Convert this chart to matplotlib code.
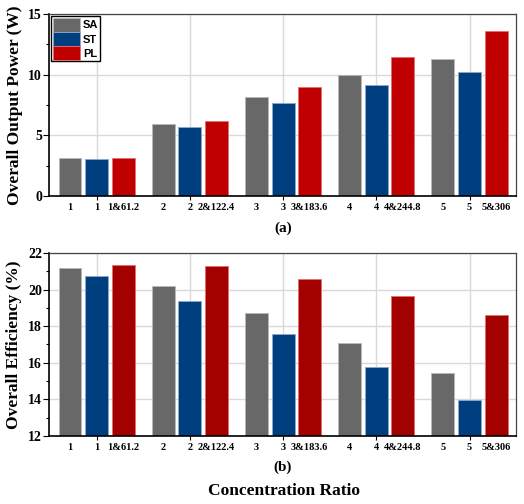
import numpy as np
import matplotlib
matplotlib.use('Agg')
import matplotlib.pyplot as plt
from matplotlib.ticker import MultipleLocator

plt.rcParams['font.family'] = 'Liberation Serif'
plt.rcParams['font.weight'] = 'bold'

labels = ['1', '1', '1&61.2', '2', '2', '2&122.4', '3', '3', '3&183.6',
          '4', '4', '4&244.8', '5', '5', '5&306']
series = ['SA', 'ST', 'PL']

power_sa = [3.10, 5.90, 8.18, 9.95, 11.27]
power_st = [3.02, 5.66, 7.67, 9.15, 10.20]
power_pl = [3.13, 6.20, 8.98, 11.43, 13.58]

eff_sa = [21.20, 20.22, 18.72, 17.08, 15.46]
eff_st = [20.74, 19.36, 17.57, 15.75, 13.99]
eff_pl = [21.33, 21.27, 20.58, 19.65, 18.63]

gray = '#686868'
blue = '#003f7f'
red_a = '#c00000'
red_b = '#a30000'

groups = np.arange(5) * 3.5
width = 0.86

fig = plt.figure(figsize=(5.24, 5.04), dpi=100)
ax1 = fig.add_axes([0.0935, 0.611, 0.8915, 0.361])
ax2 = fig.add_axes([0.0935, 0.135, 0.8915, 0.363])


def draw(ax, sa, st, pl, red, ylim, major, minor, legend):
    ax.set_axisbelow(True)
    ax.bar(groups, sa, width, color=gray, edgecolor='#b8b8b8', linewidth=0.6, label=series[0])
    ax.bar(groups + 1, st, width, color=blue, edgecolor='#8fa8c8', linewidth=0.6, label=series[1])
    ax.bar(groups + 2, pl, width, color=red, edgecolor='#e07070', linewidth=0.6, label=series[2])
    ax.set_xlim(-0.79, 16.75)
    ax.set_ylim(*ylim)
    ax.xaxis.remove_overlapping_locs = False
    ax.set_xticks(groups + 1)
    ax.set_xticklabels([])
    ax.set_xticks(np.stack([groups, groups + 1, groups + 2], axis=1).ravel(), minor=True)
    ax.set_xticklabels(labels, minor=True, fontsize=7.5, fontweight='bold')
    ax.tick_params(axis='x', which='major', length=3, width=0.8, direction='out')
    ax.tick_params(axis='x', which='minor', length=0, pad=5)
    ax.yaxis.set_major_locator(MultipleLocator(major))
    ax.yaxis.set_minor_locator(MultipleLocator(minor))
    ax.tick_params(axis='y', which='major', length=4, width=0.8, labelsize=10, pad=1)
    ax.tick_params(axis='y', which='minor', length=2.5, width=0.8)
    ax.grid(True, which='major', color='#d9d9d9', linewidth=1)
    for s in ['top', 'right']:
        ax.spines[s].set_color('#444444')
        ax.spines[s].set_linewidth(0.9)
    for s in ['left', 'bottom']:
        ax.spines[s].set_color('black')
        ax.spines[s].set_linewidth(1.2)
    if legend:
        ax.legend(loc='upper left', prop={'family': 'Liberation Sans', 'weight': 'bold', 'size': 8},
                  handlelength=2.4, handleheight=1.5, handletextpad=0.3, labelspacing=0.05,
                  borderpad=0.15, borderaxespad=0.2, fancybox=False, edgecolor='black',
                  framealpha=1)


draw(ax1, power_sa, power_st, power_pl, red_a, (0, 15), 5, 2.5, True)
draw(ax2, eff_sa, eff_st, eff_pl, red_b, (12, 22), 2, 1, False)

ax1.set_ylabel('Overall Output Power (W)', fontsize=12.5, fontweight='bold', labelpad=4)
ax2.set_ylabel('Overall Efficiency (%)', fontsize=12.5, fontweight='bold', labelpad=4)

fig.text(0.54, 0.548, '(a)', ha='center', va='center', fontsize=11, fontweight='bold')
fig.text(0.54, 0.073, '(b)', ha='center', va='center', fontsize=11, fontweight='bold')
fig.text(0.542, 0.026, 'Concentration Ratio', ha='center', va='center', fontsize=12.5, fontweight='bold')

fig.savefig('out.png', dpi=100)
